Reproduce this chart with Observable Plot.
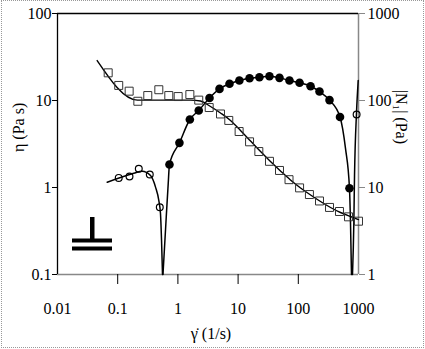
<!DOCTYPE html>
<html>
<head>
<meta charset="utf-8">
<script src="https://cdn.jsdelivr.net/npm/d3@7"></script>
<script src="https://cdn.jsdelivr.net/npm/@observablehq/plot@0.6"></script>
<style>
  html, body { margin: 0; padding: 0; background: #fff; }
  #wrap { position: relative; width: 425px; height: 349px; }
  #border { position: absolute; left: 1px; top: 0; width: 423px; height: 348px; box-sizing: border-box; border: 1px dotted #999; pointer-events: none; }
</style>
</head>
<body>
<div id="wrap"><div id="border"></div></div>
<script>
// Viscosity eta (Pa s) vs shear rate (1/s) — open squares
const etaRate = [0.0695, 0.104, 0.155, 0.216, 0.316, 0.482, 0.706, 1.01, 1.58, 2.22, 3.31, 5.1, 7.0, 10.4, 15.5, 22.1, 33.2, 48.7, 70.1, 105, 153, 225, 330, 483, 682, 1000];
const eta = [20.8, 14.9, 12.8, 9.8, 11.4, 13.3, 11.4, 11.1, 11.7, 10.1, 8.3, 7.0, 5.9, 4.4, 3.35, 2.59, 2.0, 1.57, 1.23, 0.99, 0.83, 0.70, 0.59, 0.53, 0.46, 0.41];
// eta fit line
const etaFitRate = [0.0456, 0.213, 0.514, 1.62, 2.37, 3.48, 5.1, 7.48, 10.96, 16.1, 23.6, 34.5, 50.6, 74.1, 109, 160, 234, 343, 502, 736, 1000];
const etaFit = [28.8, 10.1, 10.1, 10.1, 9.86, 8.53, 7.18, 5.89, 4.52, 3.42, 2.59, 1.99, 1.55, 1.22, 0.987, 0.82, 0.69, 0.589, 0.516, 0.464, 0.428];
// |N1| (Pa) negative N1 — open circles
const n1NegRate = [0.104, 0.157, 0.224, 0.341, 0.500, 930];
const n1Neg = [12.9, 13.4, 16.4, 14.1, 5.94, 69];
// |N1| (Pa) positive N1 — filled circles
const n1PosRate = [0.724, 1.06, 1.58, 2.22, 3.35, 4.91, 7.2, 10.5, 15.5, 22.6, 33.2, 48.7, 71.4, 105, 160, 225, 330, 493, 708];
const n1Pos = [18.4, 32.6, 60.5, 76.7, 107, 136, 156, 170, 180, 185, 190, 182, 170, 160, 146, 127, 101, 64.6, 9.8];
// |N1| fit lines (three branches)
const n1FitLowRate = [0.067, 0.185, 0.255, 0.351, 0.425, 0.482, 0.514, 0.535, 0.555];
const n1FitLow = [11.5, 14.6, 15.4, 13.7, 10.1, 7.09, 4.99, 2.46, 1];
const n1FitMidRate = [0.565, 0.640, 0.690, 0.724, 1.06, 1.58, 2.22, 3.35, 4.91, 7.2, 10.5, 15.5, 22.6, 33.2, 48.7, 71.4, 105, 160, 225, 330, 493, 608, 708, 737, 765];
const n1FitMid = [1, 4.56, 11.0, 18.4, 32.6, 60.5, 76.7, 107, 136, 156, 170, 180, 185, 190, 182, 170, 160, 146, 127, 101, 64.6, 28.1, 9.8, 3.83, 1];
const n1FitHighRate = [795, 836, 859, 927, 989];
const n1FitHigh = [1, 3.83, 13.7, 72.8, 170];

const xTicks = [0.01, 0.1, 1, 10, 100, 1000];
const xInnerTicks = [0.1, 1, 10, 100];
const yTicks = [0.1, 1, 10, 100];
const xLabel = "γ̇ (1/s)";
const yLabel = "η (Pa s)";
const y2Label = "|N₁| (Pa)";

const zip = (xs, ys, k = 1) => xs.map((x, i) => ({x, y: ys[i] / k}));
const etaPts = zip(etaRate, eta);
const etaFitPts = zip(etaFitRate, etaFit);
const negPts = zip(n1NegRate, n1Neg, 10);
const posPts = zip(n1PosRate, n1Pos, 10);
const fitLow = zip(n1FitLowRate, n1FitLow, 10);
const fitMid = zip(n1FitMidRate, n1FitMid, 10);
const fitHigh = zip(n1FitHighRate, n1FitHigh, 10);

const fmt = d3.format("~g");

const plot = Plot.plot({
  width: 425, height: 349,
  marginLeft: 57, marginRight: 67, marginTop: 13, marginBottom: 75,
  x: {type: "log", domain: [0.01, 1000]},
  y: {type: "log", domain: [0.1, 100]},
  style: {fontSize: "16px", background: "transparent", color: "black"},
  marks: [
    Plot.ruleY([0.1], {stroke: "#888", strokeWidth: 1.5}),
    Plot.ruleX([1000], {stroke: "#888", strokeWidth: 1.5}),
    Plot.ruleY([100], {stroke: "black", strokeWidth: 1.3}),
    Plot.ruleX([0.01], {stroke: "black", strokeWidth: 1.3}),
    Plot.axisX({ticks: xInnerTicks, tickSize: 10, tickFormat: () => "", label: null, stroke: "black"}),
    Plot.axisX({ticks: xTicks, tickSize: 0, tickPadding: 28, tickFormat: fmt, label: null, fontSize: 16}),
    Plot.axisY({ticks: yTicks, tickSize: 5, tickPadding: 1, tickFormat: fmt, label: null, fontSize: 16}),
    Plot.axisY({anchor: "right", ticks: yTicks, tickSize: 6, tickFormat: () => "", label: null, stroke: "#888"}),
    Plot.axisY({anchor: "right", ticks: yTicks, tickSize: 0, tickPadding: 9, tickFormat: d => fmt(d * 10), label: null, fontSize: 16}),
    Plot.line(etaFitPts, {x: "x", y: "y", stroke: "black", strokeWidth: 1.4, curve: "monotone-x"}),
    Plot.line(fitLow, {x: "x", y: "y", stroke: "black", strokeWidth: 1.5, curve: "monotone-x"}),
    Plot.line(fitMid, {x: "x", y: "y", stroke: "black", strokeWidth: 1.5, curve: "monotone-x"}),
    Plot.line(fitHigh, {x: "x", y: "y", stroke: "black", strokeWidth: 1.5, curve: "monotone-x"}),
    Plot.dot(etaPts, {x: "x", y: "y", symbol: "square", r: 4.5, stroke: "#333", strokeWidth: 1, fill: "none"}),
    Plot.dot(negPts, {x: "x", y: "y", r: 3.4, stroke: "black", strokeWidth: 1.2, fill: "none"}),
    Plot.dot(posPts, {x: "x", y: "y", r: 4.3, fill: "black", stroke: "none"}),
    Plot.text([xLabel], {frameAnchor: "bottom", dy: 59, dx: 3, text: d => d, fontSize: 16, lineAnchor: "middle"}),
    Plot.text([yLabel], {frameAnchor: "left", dx: -39, dy: 8, rotate: -90, text: d => d, fontSize: 16, lineAnchor: "middle"}),
    Plot.text([y2Label], {frameAnchor: "right", dx: 43, dy: 0, rotate: 90, text: d => d, fontSize: 16, lineAnchor: "middle"})
  ]
});

// serif font forced inline (important) on the svg and every text element
plot.style.setProperty("font-family", "'Liberation Serif'", "important");
plot.querySelectorAll("g, text, tspan").forEach(el => {
  el.style.setProperty("font-family", "'Liberation Serif'", "important");
  el.setAttribute("font-family", "Liberation Serif");
});

// geometry glyph (plate symbol) decoration
const g = d3.select(plot).append("g").attr("fill", "black");
g.append("rect").attr("x", 90).attr("y", 217).attr("width", 4.5).attr("height", 23);
g.append("rect").attr("x", 72).attr("y", 238.5).attr("width", 40).attr("height", 4);
g.append("rect").attr("x", 72).attr("y", 246.5).attr("width", 40).attr("height", 4);

document.getElementById("wrap").prepend(plot);
</script>
</body>
</html>
